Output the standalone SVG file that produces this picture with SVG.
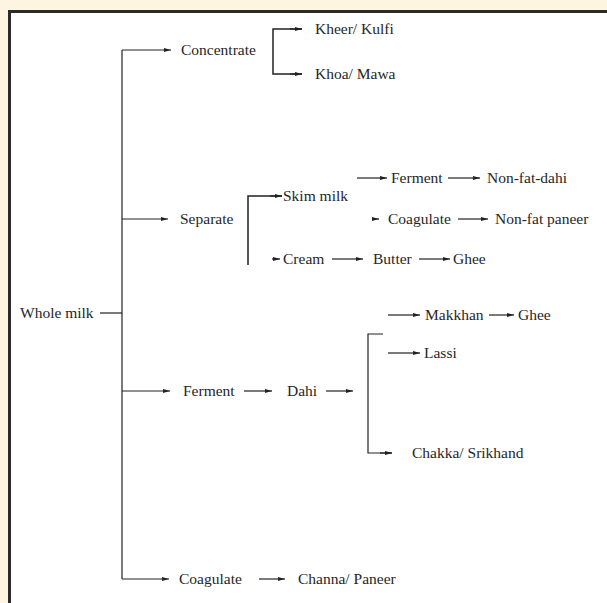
<svg xmlns="http://www.w3.org/2000/svg" width="607" height="603" viewBox="0 0 607 603">
<defs>
<marker id="ah" markerUnits="userSpaceOnUse" markerWidth="8" markerHeight="6" refX="7" refY="2.5" orient="auto">
<path d="M0,0.5 L7,2.5 L0,4.5 z" fill="#222"/>
</marker>
<style>
text{font-size:15.5px;fill:#262626}
.c line,.c path{stroke:#222;stroke-width:1.2;fill:none}
.c .a{marker-end:url(#ah)}
.c .b{stroke-width:1.5}
</style>
</defs>
<rect x="0" y="0" width="607" height="603" fill="#fdf4e1"/>
<rect x="9.5" y="11.5" width="700" height="700" fill="#fff" stroke="#2a2a2a" stroke-width="3"/>
<g class="c" id="connectors">
<line x1="122" y1="50" x2="122" y2="579"/>
<line x1="100" y1="313" x2="122" y2="313"/>
<line class="a" x1="122" y1="50" x2="171" y2="50"/>
<line class="a" x1="122" y1="219" x2="168" y2="219"/>
<line class="a" x1="122" y1="391" x2="170" y2="391"/>
<line class="a" x1="122" y1="579" x2="169" y2="579"/>
<path class="b" d="M302,29 H273 V74 H302"/>
<line class="a" x1="290" y1="29" x2="302" y2="29"/>
<line class="a" x1="290" y1="74" x2="302" y2="74"/>
<path class="b" d="M282,196 H248 V265"/>
<line class="a" x1="270" y1="196" x2="282" y2="196"/>
<line class="a" x1="357" y1="178" x2="387" y2="178"/>
<line class="a" x1="448" y1="178" x2="480" y2="178"/>
<line class="a" x1="372" y1="219" x2="379" y2="219"/>
<line class="a" x1="458" y1="219" x2="488" y2="219"/>
<line class="a" x1="272" y1="259" x2="280" y2="259"/>
<line class="a" x1="332" y1="259" x2="363" y2="259"/>
<line class="a" x1="419" y1="259" x2="450" y2="259"/>
<line class="a" x1="244" y1="391" x2="272" y2="391"/>
<line class="a" x1="326" y1="391" x2="353" y2="391"/>
<path d="M383,334 H368 V453 H392"/>
<line class="a" x1="380" y1="453" x2="392" y2="453"/>
<line class="a" x1="388" y1="315" x2="420" y2="315"/>
<line class="a" x1="489" y1="315" x2="514" y2="315"/>
<line class="a" x1="388" y1="353" x2="420" y2="353"/>
<line class="a" x1="259" y1="579" x2="285" y2="579"/>
</g>
<g font-family="Liberation Serif, Times New Roman, DejaVu Serif, serif">
<g id="whole-milk"><text x="20" y="318">Whole milk</text></g>
<g id="concentrate"><text x="181" y="55">Concentrate</text></g>
<g id="kheer"><text x="315" y="34">Kheer/ Kulfi</text></g>
<g id="khoa"><text x="315" y="79">Khoa/ Mawa</text></g>
<g id="separate"><text x="180" y="224">Separate</text></g>
<g id="skim-milk"><text x="283" y="201">Skim milk</text></g>
<g id="ferment-skim"><text x="391" y="183">Ferment</text></g>
<g id="non-fat-dahi"><text x="487" y="183">Non-fat-dahi</text></g>
<g id="coagulate-skim"><text x="388" y="224">Coagulate</text></g>
<g id="non-fat-paneer"><text x="495" y="224">Non-fat paneer</text></g>
<g id="cream"><text x="283" y="264">Cream</text></g>
<g id="butter"><text x="373" y="264">Butter</text></g>
<g id="ghee-1"><text x="453" y="264">Ghee</text></g>
<g id="ferment"><text x="183" y="396">Ferment</text></g>
<g id="dahi"><text x="287" y="396">Dahi</text></g>
<g id="makkhan"><text x="425" y="320">Makkhan</text></g>
<g id="ghee-2"><text x="518" y="320">Ghee</text></g>
<g id="lassi"><text x="424" y="358">Lassi</text></g>
<g id="chakka"><text x="412" y="458">Chakka/ Srikhand</text></g>
<g id="coagulate"><text x="179" y="584">Coagulate</text></g>
<g id="channa"><text x="298" y="584">Channa/ Paneer</text></g>
</g>
</svg>
